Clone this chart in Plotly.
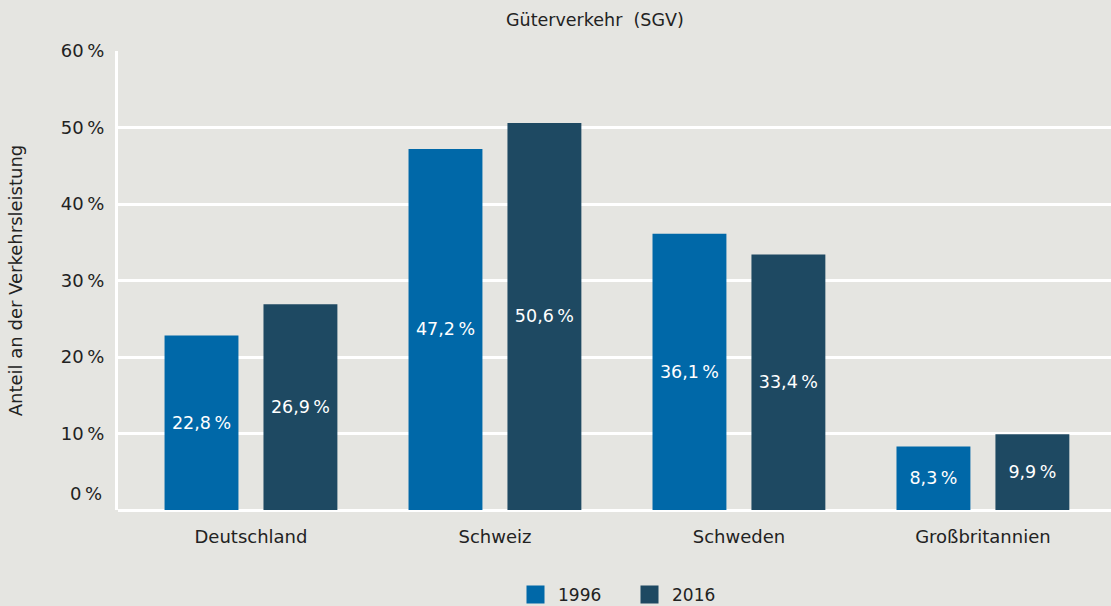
import plotly.graph_objects as go

categories = ["Deutschland", "Schweiz", "Schweden", "Großbritannien"]
values_1996 = [22.8, 47.2, 36.1, 8.3]
values_2016 = [26.9, 50.6, 33.4, 9.9]
series_names = ["1996", "2016"]
y_tickvals = [10, 20, 30, 40, 50, 60]
y_ticktext = ["10\u2009%", "20\u2009%", "30\u2009%", "40\u2009%", "50\u2009%", "60\u2009%"]

BG = "#e5e5e1"
C1 = "#0068a8"
C2 = "#1e4962"
TXT = "#222222"
FONT = "DejaVu Sans"

def fmt(v):
    return ("%.1f" % v).replace(".", ",") + "\u2009%"

fig = go.Figure()
for name, vals, col in [(series_names[0], values_1996, C1), (series_names[1], values_2016, C2)]:
    fig.add_trace(go.Bar(
        x=categories, y=vals, name=name, marker=dict(color=col, line=dict(width=0)),
        text=[fmt(v) for v in vals], textposition="inside", insidetextanchor="middle",
        textfont=dict(color="white", size=17.5, family=FONT), textangle=0,
        hoverinfo="skip", showlegend=False,
    ))
# legend entries (larger square swatches)
for name, col in [(series_names[0], C1), (series_names[1], C2)]:
    fig.add_trace(go.Scatter(
        x=[None], y=[None], mode="markers", name=name,
        marker=dict(symbol="square", size=16, color=col, line=dict(color=col, width=2)),
        showlegend=True, hoverinfo="skip",
    ))

fig.update_layout(
    width=1111, height=606,
    paper_bgcolor=BG, plot_bgcolor=BG,
    margin=dict(l=118, r=0, t=51, b=96, autoexpand=False),
    barmode="group", bargap=0.189, bargroupgap=0.253,
    font=dict(family=FONT, size=17, color=TXT),
    showlegend=True,
    legend=dict(orientation="h", xref="container", x=513 / 1111, xanchor="left",
                yref="container", y=1 - 595 / 606, yanchor="middle",
                font=dict(size=17, color=TXT), bgcolor="rgba(0,0,0,0)", traceorder="normal",
                itemwidth=35, entrywidth=64, entrywidthmode="pixels"),
    annotations=[
        dict(text="Güterverkehr\u00a0\u00a0(SGV)", xref="paper", yref="paper", x=(595 - 118) / 993, y=1,
             yshift=31, showarrow=False, font=dict(size=17.5, color=TXT), xanchor="center", yanchor="middle"),
        dict(text="0\u2009%", xref="paper", yref="y", x=0, y=2.2, xshift=-14, xanchor="right",
             yanchor="middle", showarrow=False, font=dict(size=18, color=TXT)),
    ],
)
fig.update_xaxes(range=[-0.545, 3.525], showgrid=False, showline=False, zeroline=False,
                 ticks="", tickfont=dict(size=18, color=TXT), ticklabelstandoff=14, automargin=False)
fig.update_yaxes(range=[0, 60], tickvals=y_tickvals, ticktext=y_ticktext,
                 showgrid=True, gridcolor="white", gridwidth=3,
                 zeroline=True, zerolinecolor="white", zerolinewidth=3,
                 showline=True, linecolor="white", linewidth=3, automargin=False,
                 ticks="", ticklabelstandoff=7, tickfont=dict(size=18, color=TXT),
                 title=dict(text="Anteil an der Verkehrsleistung", font=dict(size=18, color=TXT), standoff=34))

fig.write_html("out.html", config={"displayModeBar": False},
               post_script="document.body.style.margin='0';document.body.style.overflow='hidden';")
